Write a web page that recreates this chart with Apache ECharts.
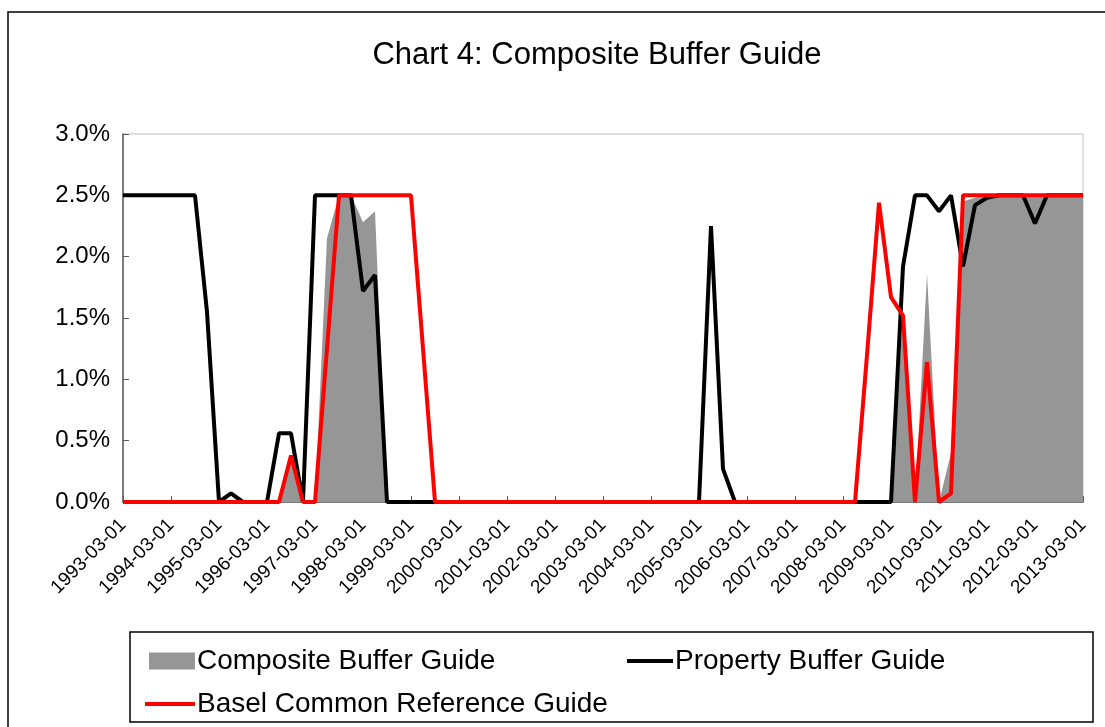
<!DOCTYPE html>
<html>
<head>
<meta charset="utf-8">
<script src="https://cdn.jsdelivr.net/npm/echarts@6/dist/echarts.min.js"></script>
<style>html,body{margin:0;padding:0;background:#fff;}#c{width:1105px;height:727px;}</style>
</head>
<body>
<div id="c"></div>
<script>
const categories = [
'1993-03-01','1993-06-01','1993-09-01','1993-12-01',
'1994-03-01','1994-06-01','1994-09-01','1994-12-01',
'1995-03-01','1995-06-01','1995-09-01','1995-12-01',
'1996-03-01','1996-06-01','1996-09-01','1996-12-01',
'1997-03-01','1997-06-01','1997-09-01','1997-12-01',
'1998-03-01','1998-06-01','1998-09-01','1998-12-01',
'1999-03-01','1999-06-01','1999-09-01','1999-12-01',
'2000-03-01','2000-06-01','2000-09-01','2000-12-01',
'2001-03-01','2001-06-01','2001-09-01','2001-12-01',
'2002-03-01','2002-06-01','2002-09-01','2002-12-01',
'2003-03-01','2003-06-01','2003-09-01','2003-12-01',
'2004-03-01','2004-06-01','2004-09-01','2004-12-01',
'2005-03-01','2005-06-01','2005-09-01','2005-12-01',
'2006-03-01','2006-06-01','2006-09-01','2006-12-01',
'2007-03-01','2007-06-01','2007-09-01','2007-12-01',
'2008-03-01','2008-06-01','2008-09-01','2008-12-01',
'2009-03-01','2009-06-01','2009-09-01','2009-12-01',
'2010-03-01','2010-06-01','2010-09-01','2010-12-01',
'2011-03-01','2011-06-01','2011-09-01','2011-12-01',
'2012-03-01','2012-06-01','2012-09-01','2012-12-01',
'2013-03-01'
];

// values in percent
const composite = [
0,0,0,0, 0,0,0,0, 0,0,0,0, 0,0,0.38,0,
0,2.15,2.5,2.5, 2.28,2.37,0,0, 0,0,0,0, 0,0,0,0,
0,0,0,0, 0,0,0,0, 0,0,0,0, 0,0,0,0,
0,0,0,0, 0,0,0,0, 0,0,0,0, 0,0,0,0,
0,1.54,0,1.86, 0,0.4,2.45,2.48, 2.5,2.5,2.5,2.5, 2.5,2.5,2.5,2.5,
2.5
];
const property = [
2.5,2.5,2.5,2.5, 2.5,2.5,2.5,1.55, 0,0.07,0,0, 0,0.56,0.56,0,
2.5,2.5,2.5,2.5, 1.72,1.85,0,0, 0,0,0,0, 0,0,0,0,
0,0,0,0, 0,0,0,0, 0,0,0,0, 0,0,0,0,
0,2.25,0.27,0, 0,0,0,0, 0,0,0,0, 0,0,0,0,
0,1.92,2.5,2.5, 2.37,2.5,1.92,2.42, 2.48,2.5,2.5,2.5, 2.27,2.5,2.5,2.5,
2.5
];
const basel = [
0,0,0,0, 0,0,0,0, 0,0,0,0, 0,0,0.38,0,
0,1.25,2.5,2.5, 2.5,2.5,2.5,2.5, 2.5,1.25,0,0, 0,0,0,0,
0,0,0,0, 0,0,0,0, 0,0,0,0, 0,0,0,0,
0,0,0,0, 0,0,0,0, 0,0,0,0, 0,0,1.2,2.44,
1.67,1.52,0,1.14, 0,0.07,2.5,2.5, 2.5,2.5,2.5,2.5, 2.5,2.5,2.5,2.5,
2.5
];
const yTicks = ['0.0%','0.5%','1.0%','1.5%','2.0%','2.5%','3.0%'];
const titleText = 'Chart 4: Composite Buffer Guide';

const FONT = '"Liberation Sans", Arial, sans-serif';
const chart = echarts.init(document.getElementById('c'), null, {renderer: 'canvas'});
chart.setOption({
  backgroundColor: '#fff',
  animation: false,
  textStyle: {fontFamily: FONT},
  graphic: [
    {type: 'rect', shape: {x: 8, y: 12, width: 1200, height: 800}, style: {fill: 'none', stroke: '#000', lineWidth: 1.5}, silent: true, z: -1},
    {type: 'rect', shape: {x: 130, y: 632, width: 963, height: 90}, style: {fill: '#fff', stroke: '#000', lineWidth: 1.5}, silent: true, z: 0},
    {type: 'text', x: 597, y: 55, silent: true, z: 5,
     style: {text: titleText, fill: '#000', font: '31px ' + FONT, textAlign: 'center', textVerticalAlign: 'middle'}}
  ],
  legend: [
    {data: [{name: 'Composite Buffer Guide', icon: 'rect'}], left: 144, top: 642, itemWidth: 46, itemHeight: 17, itemGap: 6,
     textStyle: {fontFamily: FONT, fontSize: 28, color: '#000', padding: [0, 0, 0, -3]}, z: 5},
    {data: [{name: 'Property Buffer Guide', icon: 'rect'}], left: 622, top: 642, itemWidth: 46, itemHeight: 4,
     textStyle: {fontFamily: FONT, fontSize: 28, color: '#000', padding: [0, 0, 0, -3]}, z: 5},
    {data: [{name: 'Basel Common Reference Guide', icon: 'rect'}], left: 140, top: 685, itemWidth: 50, itemHeight: 4,
     textStyle: {fontFamily: FONT, fontSize: 28, color: '#000', padding: [0, 0, 0, -3]}, z: 5}
  ],
  grid: {left: 123, right: 22, top: 134, bottom: 225, show: true, borderColor: '#c0c0c0', borderWidth: 1, containLabel: false},
  xAxis: {
    type: 'category', data: categories, boundaryGap: false,
    axisLine: {show: true, lineStyle: {color: '#595959', width: 1.5}},
    axisTick: {show: true, inside: true, length: 6, interval: 3, lineStyle: {color: '#595959'}},
    axisLabel: {interval: 3, rotate: 45, fontSize: 19, color: '#000', fontFamily: FONT, margin: 20},
    splitLine: {show: false}
  },
  yAxis: {
    type: 'value', min: 0, max: 3, interval: 0.5,
    axisLine: {show: true, lineStyle: {color: '#595959', width: 1.5}},
    axisTick: {show: true, inside: true, length: 6, lineStyle: {color: '#595959'}},
    axisLabel: {fontSize: 24, color: '#000', fontFamily: FONT, margin: 13,
      formatter: function (v) { return yTicks[Math.round(v / 0.5)]; }},
    splitLine: {show: false}
  },
  series: [
    {name: 'Composite Buffer Guide', type: 'line', data: composite, symbol: 'none',
     lineStyle: {width: 0, color: '#969696'}, itemStyle: {color: '#969696'},
     areaStyle: {color: '#969696', opacity: 1}, z: 1},
    {name: 'Property Buffer Guide', type: 'line', data: property, symbol: 'none',
     lineStyle: {width: 4, color: '#000'}, itemStyle: {color: '#000'}, z: 2},
    {name: 'Basel Common Reference Guide', type: 'line', data: basel, symbol: 'none',
     lineStyle: {width: 4, color: '#ff0000'}, itemStyle: {color: '#ff0000'}, z: 3}
  ]
});
</script>
</body>
</html>
